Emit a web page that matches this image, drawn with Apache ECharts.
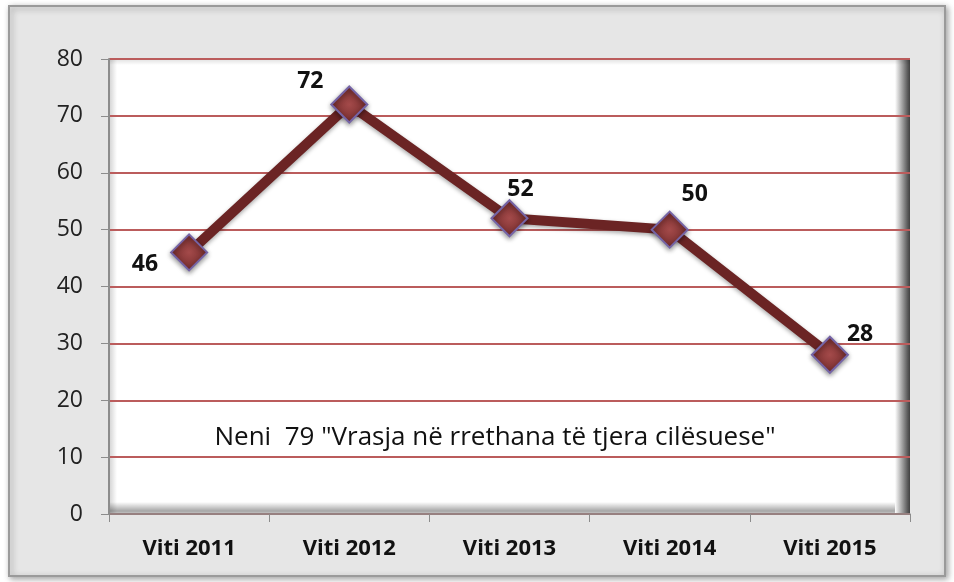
<!DOCTYPE html>
<html>
<head>
<meta charset="utf-8">
<script src="https://cdn.jsdelivr.net/npm/echarts@6/dist/echarts.min.js"></script>
<style>
  html, body { margin: 0; padding: 0; background: #ffffff; }
  #main { width: 954px; height: 582px; }
</style>
</head>
<body>
<div id="main"></div>
<script>
// kategorite dhe vlerat
const years = ['Viti 2011', 'Viti 2012', 'Viti 2013', 'Viti 2014', 'Viti 2015'];
const cases = [46, 72, 52, 50, 28];
const yTicks = [0, 80, 10]; // min, max, interval
const caption = 'Neni  79 "Vrasja në rrethana të tjera cilësuese"';

// pozicioni i etiketave per secilen pike
const labelPlace = [
  { position: 'left', offset: [-7, 12] },
  { position: 'top', offset: [-39, 12] },
  { position: 'top', offset: [11, 7] },
  { position: 'top', offset: [25, 0] },
  { position: 'right', offset: [-7, -20] }
];

const font = '"Open Sans", Lato, sans-serif';

// kuadrati i grafikut (sfondi)
const plot = { left: 109, top: 59, right: 910, bottom: 514 };

const chart = echarts.init(document.getElementById('main'));

const option = {
  animation: false,
  backgroundColor: '#ffffff',
  graphic: [
    {
      type: 'rect',
      z: -10,
      shape: { x: 9, y: 6, width: 936, height: 570 },
      style: {
        fill: '#e6e6e6',
        stroke: '#9a9a9a',
        lineWidth: 2,
        shadowBlur: 6,
        shadowColor: 'rgba(0,0,0,0.35)',
        shadowOffsetX: 2,
        shadowOffsetY: 2
      }
    },
    {
      type: 'rect',
      z: -6,
      shape: { x: plot.left, y: plot.top, width: plot.right - plot.left, height: plot.bottom - plot.top },
      style: { fill: '#ffffff' }
    },
    {
      // hije e majte
      type: 'rect',
      z: -5,
      shape: { x: plot.left, y: plot.top, width: 8, height: plot.bottom - plot.top },
      style: {
        fill: new echarts.graphic.LinearGradient(0, 0, 1, 0, [
          { offset: 0, color: 'rgba(0,0,0,0.18)' },
          { offset: 1, color: 'rgba(0,0,0,0)' }
        ])
      }
    },
    {
      // hije e siperme
      type: 'rect',
      z: -5,
      shape: { x: plot.left, y: plot.top, width: plot.right - plot.left, height: 6 },
      style: {
        fill: new echarts.graphic.LinearGradient(0, 0, 0, 1, [
          { offset: 0, color: 'rgba(0,0,0,0.12)' },
          { offset: 1, color: 'rgba(0,0,0,0)' }
        ])
      }
    },
    {
      // hije e djathte
      type: 'rect',
      z: -5,
      shape: { x: plot.right - 15, y: plot.top, width: 15, height: plot.bottom - plot.top },
      style: {
        fill: new echarts.graphic.LinearGradient(0, 0, 1, 0, [
          { offset: 0, color: 'rgba(0,0,0,0)' },
          { offset: 0.85, color: 'rgba(0,0,0,0.65)' },
          { offset: 1, color: 'rgba(0,0,0,0.75)' }
        ])
      }
    },
    {
      // hije e poshtme
      type: 'rect',
      z: -5,
      shape: { x: plot.left, y: plot.bottom - 12, width: plot.right - plot.left - 15, height: 12 },
      style: {
        fill: new echarts.graphic.LinearGradient(0, 0, 0, 1, [
          { offset: 0, color: 'rgba(0,0,0,0)' },
          { offset: 0.75, color: 'rgba(0,0,0,0.35)' },
          { offset: 1, color: 'rgba(0,0,0,0.2)' }
        ])
      }
    },
    {
      type: 'text',
      z: 10,
      x: 495,
      y: 438,
      style: {
        text: caption,
        font: '26px ' + font,
        fill: '#111111',
        align: 'center',
        verticalAlign: 'middle'
      }
    }
  ],
  grid: {
    left: plot.left,
    right: 954 - plot.right,
    top: plot.top,
    bottom: 582 - plot.bottom,
    show: false
  },
  xAxis: {
    type: 'category',
    data: years,
    boundaryGap: true,
    axisLine: { lineStyle: { color: '#8c8c8c', width: 1.5 } },
    axisTick: { show: true, length: 8, lineStyle: { color: '#8c8c8c' } },
    axisLabel: {
      color: '#111111',
      fontFamily: font,
      fontWeight: 'bold',
      fontSize: 22,
      margin: 24
    },
    splitLine: { show: false }
  },
  yAxis: {
    type: 'value',
    min: yTicks[0],
    max: yTicks[1],
    interval: yTicks[2],
    axisLine: { show: true, lineStyle: { color: '#8c8c8c', width: 2 } },
    axisTick: { show: true, length: 8, lineStyle: { color: '#8c8c8c' } },
    axisLabel: {
      color: '#222222',
      fontFamily: font,
      fontSize: 23,
      margin: 26
    },
    splitLine: { show: true, lineStyle: { color: '#bb5c5c', width: 2 } }
  },
  series: [
    {
      type: 'line',
      data: cases.map((v, i) => ({ value: v, label: labelPlace[i] })),
      symbol: 'diamond',
      symbolSize: 36,
      z: 5,
      lineStyle: {
        color: '#6b2424',
        width: 10,
        shadowBlur: 4,
        shadowColor: 'rgba(0,0,0,0.35)',
        shadowOffsetY: 2
      },
      itemStyle: {
        color: {
          type: 'radial', x: 0.5, y: 0.5, r: 0.6,
          colorStops: [
            { offset: 0, color: '#a44a4a' },
            { offset: 1, color: '#6a2626' }
          ]
        },
        borderColor: '#7564a6',
        borderWidth: 2,
        shadowBlur: 5,
        shadowColor: 'rgba(0,0,0,0.4)',
        shadowOffsetY: 2
      },
      label: {
        show: true,
        color: '#111111',
        fontFamily: font,
        fontWeight: 'bold',
        fontSize: 23
      }
    }
  ]
};

chart.setOption(option);
</script>
</body>
</html>
